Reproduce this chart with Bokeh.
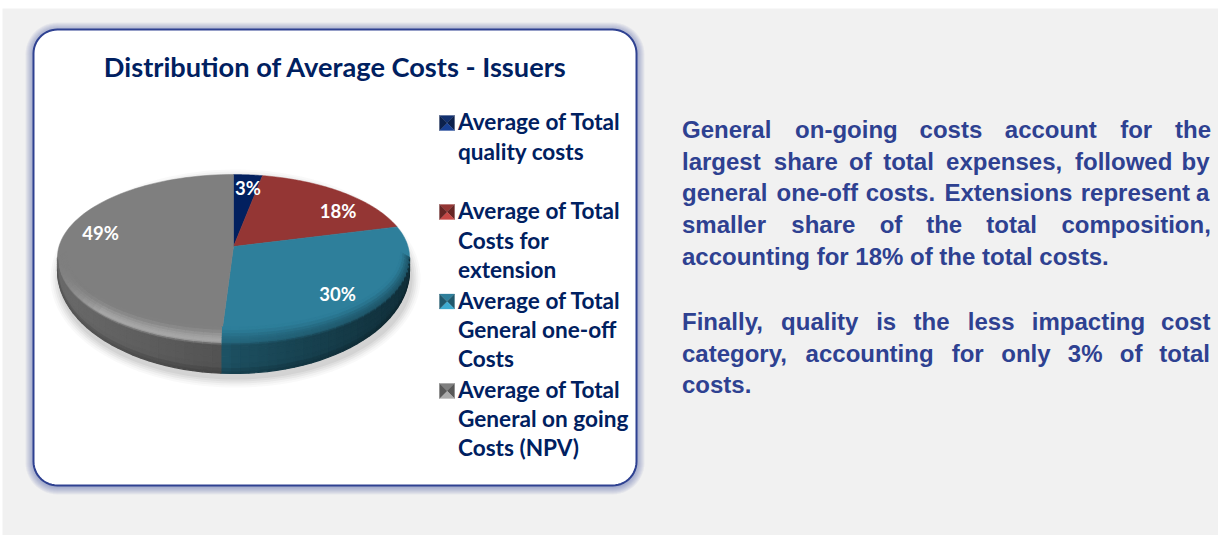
import numpy as np
from bokeh.plotting import figure
from bokeh.models import ColumnDataSource, Range1d
from bokeh.embed import file_html
from bokeh.resources import INLINE
from bokeh.core.properties import value

# ---------- data ----------
title_text = "Distribution of Average Costs - Issuers"
categories = ["Average of Total quality costs",
              "Average of Total Costs for extension",
              "Average of Total General one-off Costs",
              "Average of Total General on going Costs (NPV)"]
shares = [3, 18, 30, 49]
share_labels = ["3%", "18%", "30%", "49%"]
slice_colors = ["#02205f", "#943634", "#2e7f9b", "#7f7f7f"]
legend_lines = [["Average of Total", "quality costs"],
                ["Average of Total", "Costs for", "extension"],
                ["Average of Total", "General one-off", "Costs"],
                ["Average of Total", "General on going", "Costs (NPV)"]]
para_lines = [
    ["General", "on-going", "costs", "account", "for", "the"],
    ["largest", "share", "of", "total", "expenses,", "followed", "by"],
    ["general", "one-off", "costs.", "Extensions", "represent", "a"],
    ["smaller", "share", "of", "the", "total", "composition,"],
    ["accounting for 18% of the total costs."],
    ["Finally,", "quality", "is", "the", "less", "impacting", "cost"],
    ["category,", "accounting", "for", "only", "3%", "of", "total"],
    ["costs."],
]

# ---------- layout (page pixels) ----------
W, H = 1218, 535
NAVY, BLUE = "#002060", "#2e4191"
para_x = [
    [681.5, 794.6, 919.1, 1004.3, 1119.7, 1174.5],
    [681.5, 773.3, 848.5, 882.7, 945.6, 1074.5, 1181],
    [681.5, 776.1, 865.2, 943.9, 1080.2, 1195.5],
    [681.5, 790.8, 879.2, 925.7, 985.8, 1061],
    [681.5],
    [681.5, 780.6, 875.7, 913.1, 967.3, 1031.3, 1160.6],
    [681.5, 805.1, 951.2, 1000.8, 1067.3, 1119.3, 1158.8],
    [681.5],
]
para_y = [129, 161, 191.5, 224, 256, 321, 353, 384]
label_xy = [(247.5, 187.5), (337.5, 210.5), (337, 293), (100, 232.5)]
legend_y = [[121, 150.5], [210, 240, 269], [300, 329, 358], [389, 418, 447]]
marker_y = [115, 204, 293.5, 383]

p = figure(width=W, height=H, x_range=Range1d(0, W), y_range=Range1d(H, 0),
           output_backend="svg", toolbar_location=None, min_border=0,
           background_fill_color="white", border_fill_color="white", outline_line_color=None)
p.xaxis.visible = False
p.yaxis.visible = False
p.grid.visible = False

# page panel
p.quad(left=2, right=W, top=8, bottom=H, fill_color="#f1f1f1", line_color=None)


def rrect(x0, y0, x1, y1, r, n=14):
    a = np.linspace(0, np.pi / 2, n)
    xs = np.concatenate([x1 - r + r * np.sin(a), x1 - r + r * np.cos(a),
                         x0 + r - r * np.sin(a), x0 + r - r * np.cos(a)])
    ys = np.concatenate([y0 + r - r * np.cos(a), y1 - r + r * np.sin(a),
                         y1 - r + r * np.cos(a), y0 + r - r * np.sin(a)])
    return xs, ys


# chart card: soft blue shadow, white box, border
for grow in [8, 7, 6, 5, 4, 3, 2, 1]:
    xs, ys = rrect(33 - grow, 29 - grow + 1, 636 + grow, 485 + grow + 1, 24 + grow)
    p.patch(xs, ys, fill_color="#2e4191", fill_alpha=0.06, line_color=None)
xs, ys = rrect(33, 29, 636, 485, 24)
p.patch(xs, ys, fill_color="white", line_color="#2e4191", line_width=2)

p.text(x=[335], y=[65.5], text=[title_text], text_font=value("Lato"), text_font_style="bold",
       text_font_size="27.2px", text_color=NAVY, text_align="center", text_baseline="middle")

# ---------- pie geometry ----------
cx, ay = 233.0, 246.0            # apex of the slices
a_, b_, k_ = 174.5, 81.5, 0.1325  # perspective of the disc
ey, rx, ry = 257.0, 176.0, 83.0  # visible top ellipse
by, bry = 270.0, 103.0           # outer bottom outline


def disc(theta):
    u, v = np.sin(theta), -np.cos(theta)
    w = 1 - k_ * v
    return cx + a_ * u / w, ay + b_ * v / w


def hexc(c, f):
    rgb = [int(c[i:i + 2], 16) for i in (1, 3, 5)]
    return "#%02x%02x%02x" % tuple(int(np.clip(v * f, 0, 255)) for v in rgb)


def smooth(v):
    v = np.clip(v, 0, 1)
    return v * v * (3 - 2 * v)


def shade(f, u, lit):
    side = 0.64 - 0.2 * u if u < 0 else 0.62 - 0.25 * u
    side *= 1 - 0.2 * np.clip((f - 0.75) / 0.25, 0, 1)
    if lit:
        hl = np.clip(-u / 0.1, 0, 1) * np.clip((1 + u) / 0.25, 0, 1)
        rim = 1 + 0.32 * hl
    else:
        rim = 0.82 - 0.15 * max(u, 0)
    if f >= 0.05:
        return rim + (side - rim) * smooth((f - 0.05) / 0.12)
    return 1 + (rim - 1) * smooth((f + 0.4) / 0.45)


# ground shadow
for g, al in zip([9, 7, 5, 3, 1], [0.03, 0.04, 0.05, 0.06, 0.07]):
    t = np.linspace(0, 2 * np.pi, 120)
    p.patch(cx + 2 + (rx + g) * np.sin(t), by + 8 - (bry - 3 + g) * np.cos(t),
            fill_color="#404040", fill_alpha=al, line_color=None)

edges = np.cumsum([0] + shares) / sum(shares) * 2 * np.pi
bands = [-0.4, -0.3, -0.2, -0.12, -0.06, -0.02, 0.02, 0.06, 0.1, 0.15, 0.2, 0.3, 0.5, 0.7, 0.85, 0.95, 1.0]
qx, qy, qc = [], [], []

# top faces
for i, col in enumerate(slice_colors):
    th = np.linspace(edges[i], edges[i + 1], 80)
    x, y = disc(th)
    p.patch(np.r_[cx, x], np.r_[ay, y], fill_color=col, line_color=col, line_width=0.5)

# rim and side, band by band
for i, col in enumerate(slice_colors):
    x0, y0 = disc(edges[i])
    x1, y1 = disc(edges[i + 1])
    t0 = np.arctan2((x0 - cx) / rx, -(y0 - ey) / ry) % (2 * np.pi)
    t1 = np.arctan2((x1 - cx) / rx, -(y1 - ey) / ry) % (2 * np.pi)
    if i == len(slice_colors) - 1:
        t1 = 2 * np.pi
    lo, hi = max(t0, np.pi / 2), min(t1, 3 * np.pi / 2)
    if hi <= lo:
        continue
    ts = np.linspace(lo, hi, max(2, int((hi - lo) / np.radians(3)) + 1))
    lit = i == len(slice_colors) - 1

    def pt(t, f):
        u = np.sin(t)
        ytop = ey - ry * np.cos(t)
        ybot = by + bry * np.sqrt(max(0, 1 - u * u))
        xx = cx + rx * u * (1 + 0.05 * min(f, 0) / 0.4)
        return xx, ytop + f * (ybot - ytop)

    for ta, tb in zip(ts[:-1], ts[1:]):
        um = np.sin((ta + tb) / 2)
        for fa, fb in zip(bands[:-1], bands[1:]):
            a1, a2 = pt(ta, fa), pt(tb, fa)
            a3, a4 = pt(tb, fb), pt(ta, fb)
            qx.append([a1[0], a2[0], a3[0], a4[0]])
            qy.append([a1[1], a2[1], a3[1], a4[1]])
            qc.append(hexc(col, shade((fa + fb) / 2, um, lit)))
p.patches("x", "y", source=ColumnDataSource(dict(x=qx, y=qy, c=qc)),
          fill_color="c", line_color="c", line_width=1.2)

# data labels
p.text(x=[q[0] for q in label_xy], y=[q[1] for q in label_xy], text=share_labels,
       text_font=value("Lato"), text_font_style="bold", text_font_size="18.5px",
       text_color="white", text_align="center", text_baseline="middle")

# legend
for i, col in enumerate(slice_colors):
    m0, m1, top, bot = 439, 454, marker_y[i], marker_y[i] + 15
    mx, my = (m0 + m1) / 2, (top + bot) / 2
    tris = [([m0, m1, mx], [top, top, my], 1.0),
            ([m1, m1, mx], [top, bot, my], 0.7),
            ([m0, m1, mx], [bot, bot, my], 1.35),
            ([m0, m0, mx], [top, bot, my], 0.7)]
    for tx, ty, f in tris:
        c = hexc(col, f) if col != "#02205f" else hexc("#12306f", f)
        p.patch(tx, ty, fill_color=c, line_color=c, line_width=0.3)
    p.text(x=[457.5] * len(legend_lines[i]), y=legend_y[i], text=legend_lines[i],
           text_font=value("Lato"), text_font_style="bold", text_font_size="22.6px",
           text_color=NAVY, text_align="left", text_baseline="middle")

# commentary
for words, xs_, yy in zip(para_lines, para_x, para_y):
    p.text(x=xs_, y=[yy] * len(words), text=words, text_font=value("Liberation Sans"),
           text_font_style="bold", text_font_size="24px", text_color=BLUE,
           text_align="left", text_baseline="middle")

open("out.html", "w").write(file_html(p, INLINE))
